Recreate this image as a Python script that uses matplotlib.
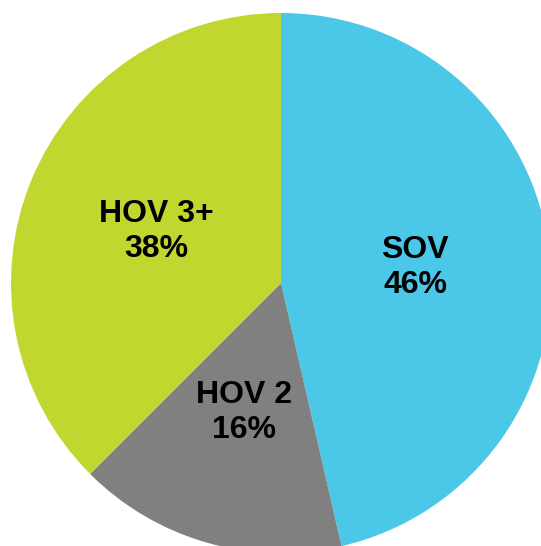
import matplotlib
matplotlib.use("Agg")
import matplotlib.pyplot as plt

plt.rcParams["font.family"] = ["Liberation Sans", "DejaVu Sans"]

categories = ["SOV", "HOV 2", "HOV 3+"]
# unrounded shares; labels show them rounded
shares = [46.4, 16.1, 37.5]
colors = ["#4BC7E8", "#808080", "#C1D72F"]

W, H = 541, 546
CX, CY, R = 281, H - 283, 270

fig = plt.figure(figsize=(W / 100, H / 100), dpi=100)
ax = fig.add_axes([0, 0, 1, 1])

labels = [f"{c}\n{round(v + 0.01)}%" for c, v in zip(categories, shares)]
wedges, texts = ax.pie(
    shares, labels=labels, colors=colors, startangle=90, counterclock=False,
    center=(CX, CY), radius=R, labeldistance=0.5, frame=True,
    wedgeprops=dict(linewidth=0),
    textprops=dict(fontsize=23, fontweight="bold", color="black"),
)
for t in texts:
    t.set_ha("center")
    t.set_va("center")
    t.set_linespacing(1.22)

ax.set_xlim(0, W)
ax.set_ylim(0, H)
ax.axis("off")
fig.savefig("out.png", dpi=100, facecolor="white")
